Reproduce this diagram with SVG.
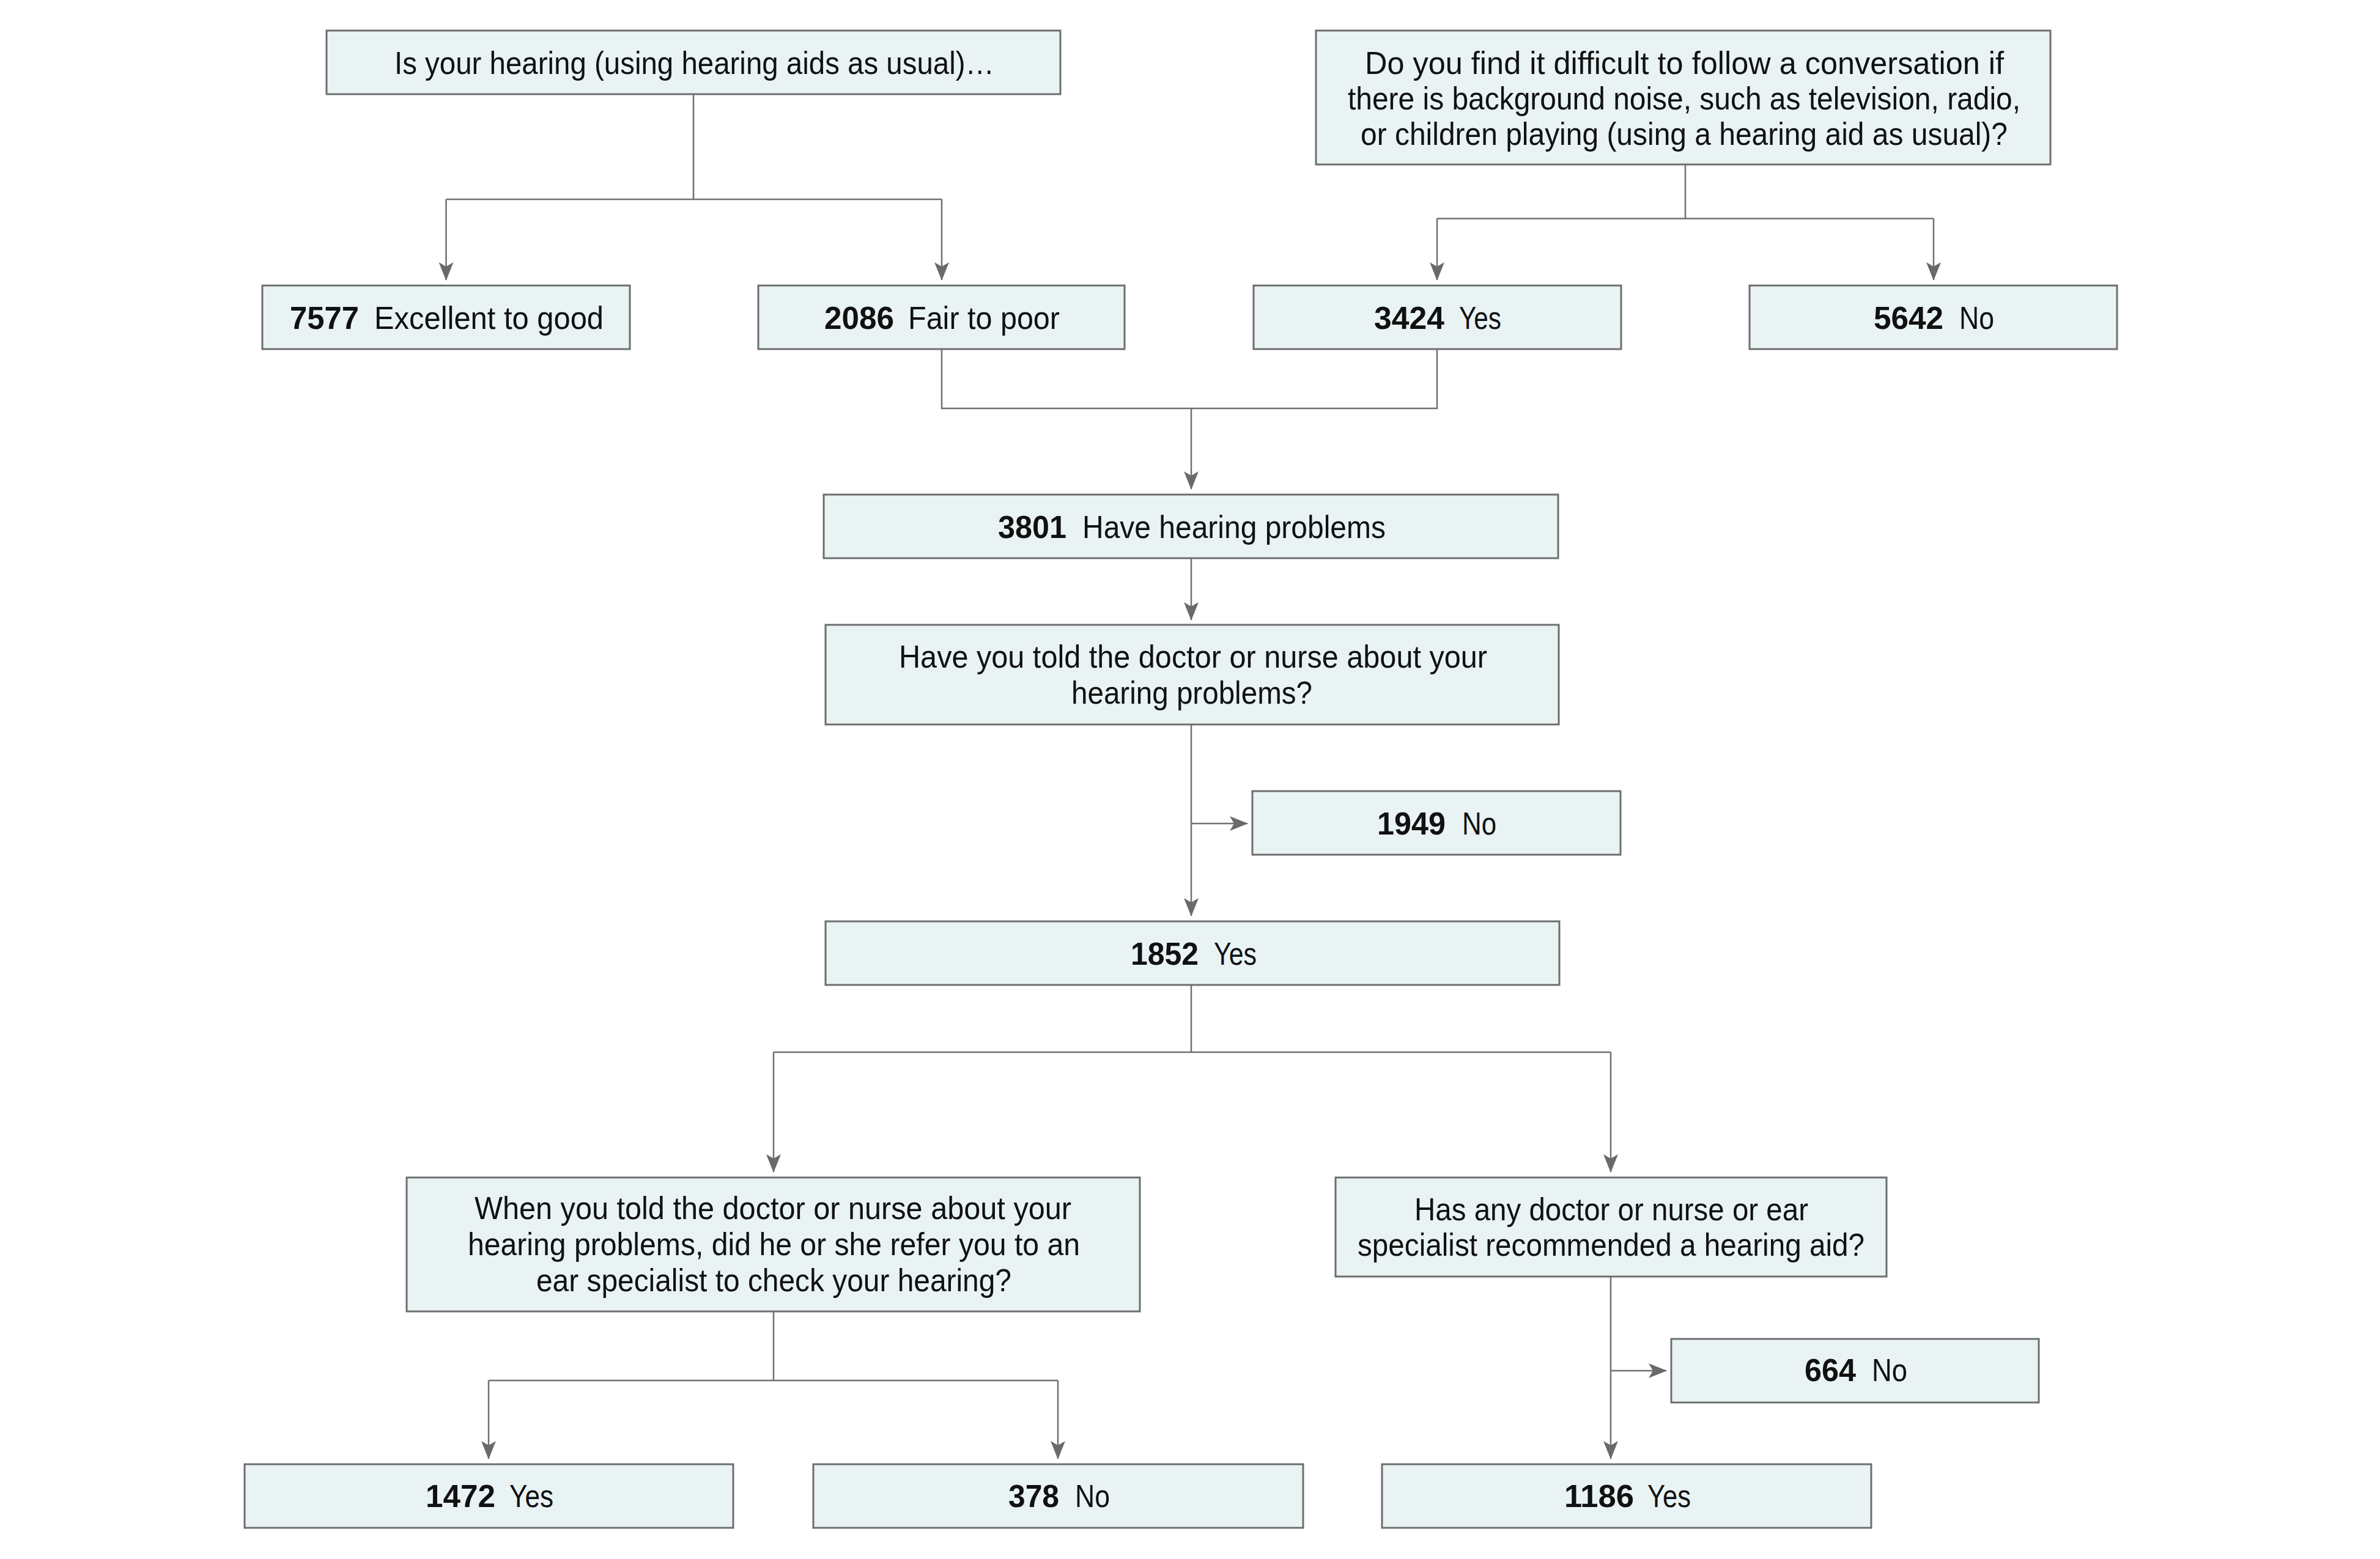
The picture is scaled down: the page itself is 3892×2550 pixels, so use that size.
<svg xmlns="http://www.w3.org/2000/svg" width="3892" height="2550" viewBox="0 0 3892 2550">
<style>
.box{fill:#e9f3f4;stroke:#6e6e6e;stroke-width:3}
.t{font-family:"Liberation Sans",Arial,sans-serif;font-size:52px;fill:#111}
.n{font-family:"Liberation Sans",Arial,sans-serif;font-size:52px;font-weight:700;fill:#111}
.c{fill:none;stroke:#707070;stroke-width:2.5}
</style>
<defs>
<marker id="ah" markerUnits="userSpaceOnUse" markerWidth="30" markerHeight="24" viewBox="0 0 30 24" refX="29" refY="12" orient="auto">
<path d="M0,0 L30,12 L0,24 L7,12 Z" fill="#6a6a6a"/>
</marker>
</defs>
<rect width="3892" height="2550" fill="#ffffff"/>
<g id="connectors">
<path class="c" d="M1134,154 V326 M729.5,326 H1540"/>
<path class="c" d="M729.5,326 V458" marker-end="url(#ah)"/>
<path class="c" d="M1540,326 V458" marker-end="url(#ah)"/>
<path class="c" d="M2756,270 V357.5 M2350,357.5 H3162"/>
<path class="c" d="M2350,357.5 V458" marker-end="url(#ah)"/>
<path class="c" d="M3162,357.5 V458" marker-end="url(#ah)"/>
<path class="c" d="M1540,572 V668 H2350 V572"/>
<path class="c" d="M1948,668 V800" marker-end="url(#ah)"/>
<path class="c" d="M1948,914 V1014" marker-end="url(#ah)"/>
<path class="c" d="M1948,1186 V1498" marker-end="url(#ah)"/>
<path class="c" d="M1948,1347 H2040" marker-end="url(#ah)"/>
<path class="c" d="M1948,1612 V1721 M1265,1721 H2634"/>
<path class="c" d="M1265,1721 V1917" marker-end="url(#ah)"/>
<path class="c" d="M2634,1721 V1917" marker-end="url(#ah)"/>
<path class="c" d="M1265,2146 V2258 M799,2258 H1730"/>
<path class="c" d="M799,2258 V2386" marker-end="url(#ah)"/>
<path class="c" d="M1730,2258 V2386" marker-end="url(#ah)"/>
<path class="c" d="M2634,2089 V2386" marker-end="url(#ah)"/>
<path class="c" d="M2634,2242 H2725" marker-end="url(#ah)"/>
</g>
<g id="q1">
<rect class="box" x="534" y="50" width="1200" height="104"/>
<text class="t" x="645" y="121" textLength="981" lengthAdjust="spacingAndGlyphs">Is your hearing (using hearing aids as usual)…</text>
</g>
<g id="q2">
<rect class="box" x="2152" y="50" width="1201" height="219"/>
<text class="t" x="2232" y="121" textLength="1045" lengthAdjust="spacingAndGlyphs">Do you find it difficult to follow a conversation if</text>
<text class="t" x="2204" y="179" textLength="1100" lengthAdjust="spacingAndGlyphs">there is background noise, such as television, radio,</text>
<text class="t" x="2225" y="237" textLength="1058" lengthAdjust="spacingAndGlyphs">or children playing (using a hearing aid as usual)?</text>
</g>
<g id="n7577">
<rect class="box" x="429" y="467" width="601" height="104"/>
<text class="n" x="474" y="538" textLength="113" lengthAdjust="spacingAndGlyphs">7577</text>
<text class="t" x="612" y="538" textLength="375" lengthAdjust="spacingAndGlyphs">Excellent to good</text>
</g>
<g id="n2086">
<rect class="box" x="1240" y="467" width="599" height="104"/>
<text class="n" x="1348" y="538" textLength="114" lengthAdjust="spacingAndGlyphs">2086</text>
<text class="t" x="1485" y="538" textLength="248" lengthAdjust="spacingAndGlyphs">Fair to poor</text>
</g>
<g id="n3424">
<rect class="box" x="2050" y="467" width="601" height="104"/>
<text class="n" x="2247" y="538" textLength="115" lengthAdjust="spacingAndGlyphs">3424</text>
<text class="t" x="2386" y="538" textLength="69" lengthAdjust="spacingAndGlyphs">Yes</text>
</g>
<g id="n5642">
<rect class="box" x="2861" y="467" width="601" height="104"/>
<text class="n" x="3064" y="538" textLength="114" lengthAdjust="spacingAndGlyphs">5642</text>
<text class="t" x="3204" y="538" textLength="57" lengthAdjust="spacingAndGlyphs">No</text>
</g>
<g id="n3801">
<rect class="box" x="1347" y="809" width="1201" height="104"/>
<text class="n" x="1632" y="880" textLength="112" lengthAdjust="spacingAndGlyphs">3801</text>
<text class="t" x="1770" y="880" textLength="496" lengthAdjust="spacingAndGlyphs">Have hearing problems</text>
</g>
<g id="q3">
<rect class="box" x="1350" y="1022" width="1199" height="163"/>
<text class="t" x="1470" y="1092" textLength="962" lengthAdjust="spacingAndGlyphs">Have you told the doctor or nurse about your</text>
<text class="t" x="1752" y="1151" textLength="394" lengthAdjust="spacingAndGlyphs">hearing problems?</text>
</g>
<g id="n1949">
<rect class="box" x="2048" y="1294" width="602" height="104"/>
<text class="n" x="2252" y="1365" textLength="112" lengthAdjust="spacingAndGlyphs">1949</text>
<text class="t" x="2391" y="1365" textLength="56" lengthAdjust="spacingAndGlyphs">No</text>
</g>
<g id="n1852">
<rect class="box" x="1350" y="1507" width="1200" height="104"/>
<text class="n" x="1849" y="1578" textLength="111" lengthAdjust="spacingAndGlyphs">1852</text>
<text class="t" x="1985" y="1578" textLength="70" lengthAdjust="spacingAndGlyphs">Yes</text>
</g>
<g id="q4">
<rect class="box" x="665" y="1926" width="1199" height="219"/>
<text class="t" x="776" y="1994" textLength="976" lengthAdjust="spacingAndGlyphs">When you told the doctor or nurse about your</text>
<text class="t" x="765" y="2053" textLength="1001" lengthAdjust="spacingAndGlyphs">hearing problems, did he or she refer you to an</text>
<text class="t" x="877" y="2112" textLength="777" lengthAdjust="spacingAndGlyphs">ear specialist to check your hearing?</text>
</g>
<g id="q5">
<rect class="box" x="2184" y="1926" width="901" height="162"/>
<text class="t" x="2313" y="1996" textLength="644" lengthAdjust="spacingAndGlyphs">Has any doctor or nurse or ear</text>
<text class="t" x="2220" y="2054" textLength="829" lengthAdjust="spacingAndGlyphs">specialist recommended a hearing aid?</text>
</g>
<g id="n664">
<rect class="box" x="2733" y="2190" width="601" height="104"/>
<text class="n" x="2951" y="2259" textLength="84" lengthAdjust="spacingAndGlyphs">664</text>
<text class="t" x="3061" y="2259" textLength="58" lengthAdjust="spacingAndGlyphs">No</text>
</g>
<g id="n1472">
<rect class="box" x="400" y="2395" width="799" height="104"/>
<text class="n" x="696" y="2465" textLength="114" lengthAdjust="spacingAndGlyphs">1472</text>
<text class="t" x="833" y="2465" textLength="72" lengthAdjust="spacingAndGlyphs">Yes</text>
</g>
<g id="n378">
<rect class="box" x="1330" y="2395" width="801" height="104"/>
<text class="n" x="1649" y="2465" textLength="83" lengthAdjust="spacingAndGlyphs">378</text>
<text class="t" x="1758" y="2465" textLength="57" lengthAdjust="spacingAndGlyphs">No</text>
</g>
<g id="n1186">
<rect class="box" x="2260" y="2395" width="800" height="104"/>
<text class="n" x="2558" y="2465" textLength="114" lengthAdjust="spacingAndGlyphs">1186</text>
<text class="t" x="2694" y="2465" textLength="71" lengthAdjust="spacingAndGlyphs">Yes</text>
</g>
</svg>
